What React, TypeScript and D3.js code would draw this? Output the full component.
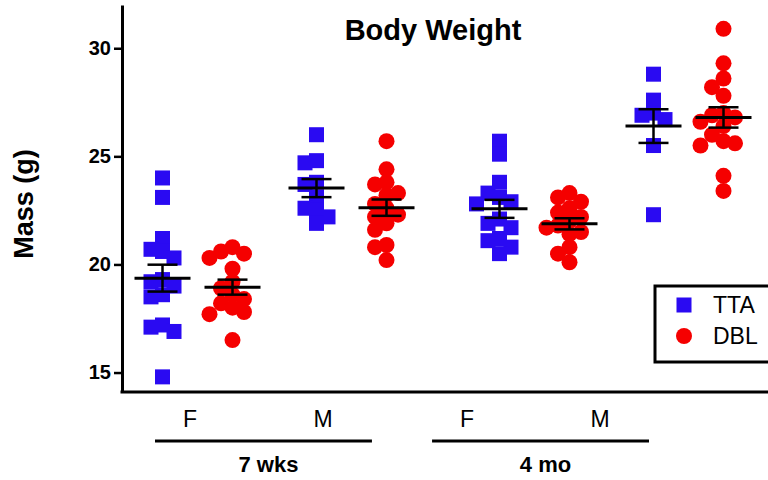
import React, { useEffect, useRef } from 'react';
import * as d3 from 'd3';

// body weight (g), one value per mouse
const ages = ['7 wks', '4 mo'];
const sexes = ['F', 'M'];
const strains = ['TTA', 'DBL'];
const yTicks = [15, 20, 25, 30];

const ttaF7 = [24.0, 23.1, 21.2, 20.7, 20.6, 20.3, 19.3, 19.2, 19.0, 18.6, 18.5, 17.2, 17.1, 16.9, 14.8];
const dblF7 = [20.8, 20.6, 20.5, 20.3, 19.8, 19.2, 18.9, 18.6, 18.4, 18.2, 18.0, 17.8, 17.7, 16.5];
const ttaM7 = [26.0, 24.8, 24.7, 23.8, 23.7, 23.1, 22.6, 22.5, 22.2, 21.9];
const dblM7 = [25.7, 24.4, 23.8, 23.7, 23.3, 23.2, 22.8, 22.6, 22.3, 22.2, 21.9, 21.6, 20.9, 20.8, 20.2];
const ttaF4 = [25.7, 25.1, 23.8, 23.3, 23.1, 22.9, 22.8, 22.1, 21.9, 21.7, 21.2, 21.1, 20.8, 20.5];
const dblF4 = [23.3, 23.1, 22.9, 22.6, 22.4, 22.2, 22.0, 21.8, 21.7, 21.5, 21.4, 20.8, 20.5, 20.1];
const ttaM4 = [28.8, 27.6, 27.0, 26.9, 26.7, 25.5, 22.3];
const dblM4 = [30.9, 29.3, 28.6, 28.2, 27.8, 27.0, 26.9, 26.8, 26.6, 26.4, 26.0, 25.7, 25.6, 25.5, 24.1, 23.4];

const groups = [
  { age: '7 wks', sex: 'F', strain: 'TTA', values: ttaF7 },
  { age: '7 wks', sex: 'F', strain: 'DBL', values: dblF7 },
  { age: '7 wks', sex: 'M', strain: 'TTA', values: ttaM7 },
  { age: '7 wks', sex: 'M', strain: 'DBL', values: dblM7 },
  { age: '4 mo', sex: 'F', strain: 'TTA', values: ttaF4 },
  { age: '4 mo', sex: 'F', strain: 'DBL', values: dblF4 },
  { age: '4 mo', sex: 'M', strain: 'TTA', values: ttaM4 },
  { age: '4 mo', sex: 'M', strain: 'DBL', values: dblM4 },
];

const font = '"Liberation Sans", Arial, sans-serif';
const color = { TTA: '#2a0af2', DBL: '#f50000' };

export default function App() {
  const ref = useRef<SVGSVGElement>(null);

  useEffect(() => {
    const width = 768;
    const height = 480;
    const svg = d3.select(ref.current);
    svg.selectAll('*').remove();
    svg.attr('width', width).attr('height', height);

    const y = d3.scaleLinear().domain([14.1, 32]).range([392, 5]);
    const xAge = d3.scaleBand().domain(ages).range([106, 780]);
    const xSex = d3.scaleBand().domain(sexes).range([14.5, 322.5]);
    const xStrain = d3.scaleBand().domain(strains).range([7, 147]);
    const cx = (g) => xAge(g.age) + xSex(g.sex) + xStrain(g.strain) + xStrain.bandwidth() / 2;

    // category labels sit on their own band under the axis
    const labAge = d3.scaleBand().domain(ages).range([155, 649]).paddingInner(0.217);
    const labSex = d3.scalePoint().domain(sexes).range([35, 168]);

    // simple swarm so points in a column don't stack
    const step = 11.5;
    const placed = groups.map((g) => {
      const pts = [];
      g.values.forEach((v) => {
        const py = y(v);
        let k = 0;
        while (true) {
          const off = k === 0 ? 0 : (k % 2 ? -1 : 1) * Math.ceil(k / 2) * step;
          const hit = pts.some((p) => Math.abs(p.dx - off) < step * 0.9 && Math.abs(p.y - py) < 12);
          if (!hit) {
            pts.push({ v, y: py, dx: off });
            break;
          }
          k++;
        }
      });
      return { ...g, pts };
    });

    const plot = svg.append('g');

    placed.forEach((g) => {
      const x0 = cx(g);
      if (g.strain === 'TTA') {
        plot.selectAll(null).data(g.pts).enter().append('rect')
          .attr('x', (d) => x0 + d.dx - 7.5)
          .attr('y', (d) => d.y - 7.5)
          .attr('width', 15).attr('height', 15)
          .attr('fill', color.TTA);
      } else {
        plot.selectAll(null).data(g.pts).enter().append('circle')
          .attr('cx', (d) => x0 + d.dx)
          .attr('cy', (d) => d.y)
          .attr('r', 8)
          .attr('fill', color.DBL);
      }
    });

    // mean +/- SEM
    placed.forEach((g) => {
      const x0 = cx(g);
      const m = d3.mean(g.values);
      const sem = d3.deviation(g.values) / Math.sqrt(g.values.length);
      const e = plot.append('g').attr('stroke', '#000').attr('fill', 'none');
      e.append('line').attr('x1', x0).attr('x2', x0).attr('y1', y(m + sem)).attr('y2', y(m - sem)).attr('stroke-width', 2.5);
      [m + sem, m - sem].forEach((v) => {
        e.append('line').attr('x1', x0 - 15).attr('x2', x0 + 15).attr('y1', y(v)).attr('y2', y(v)).attr('stroke-width', 2.5);
      });
      e.append('line').attr('x1', x0 - 28).attr('x2', x0 + 28).attr('y1', y(m)).attr('y2', y(m)).attr('stroke-width', 3);
    });

    // y axis
    const yAxis = svg.append('g')
      .attr('transform', 'translate(122,0)')
      .call(d3.axisLeft(y).tickValues(yTicks).tickSize(8).tickPadding(3).tickSizeOuter(0));
    yAxis.select('.domain').attr('stroke-width', 3);
    yAxis.selectAll('.tick line').attr('stroke-width', 2.5);
    yAxis.selectAll('.tick text')
      .attr('font-family', font).attr('font-size', 20).attr('font-weight', 'bold').attr('fill', '#000');

    // x axis line
    svg.append('line')
      .attr('x1', 120.5).attr('x2', 768).attr('y1', 392).attr('y2', 392)
      .attr('stroke', '#000').attr('stroke-width', 3);

    ages.forEach((a) => {
      const x0 = labAge(a);
      sexes.forEach((s) => {
        svg.append('text')
          .attr('x', x0 + labSex(s)).attr('y', 427)
          .attr('text-anchor', 'middle')
          .attr('font-family', font).attr('font-size', 23)
          .text(s);
      });
      svg.append('line')
        .attr('x1', x0).attr('x2', x0 + labAge.bandwidth())
        .attr('y1', 441).attr('y2', 441)
        .attr('stroke', '#000').attr('stroke-width', 3);
      svg.append('text')
        .attr('x', x0 + labAge.bandwidth() / 2 + 5).attr('y', 472)
        .attr('text-anchor', 'middle')
        .attr('font-family', font).attr('font-size', 22).attr('font-weight', 'bold')
        .text(a);
    });

    svg.append('text')
      .attr('transform', 'translate(33,204) rotate(-90)')
      .attr('text-anchor', 'middle')
      .attr('font-family', font).attr('font-size', 27).attr('font-weight', 'bold')
      .text('Mass (g)');

    svg.append('text')
      .attr('x', 433).attr('y', 40)
      .attr('text-anchor', 'middle')
      .attr('font-family', font).attr('font-size', 29).attr('font-weight', 'bold')
      .text('Body Weight');

    // legend
    const lg = svg.append('g');
    lg.append('rect')
      .attr('x', 655).attr('y', 286).attr('width', 130).attr('height', 76)
      .attr('fill', '#fff').attr('stroke', '#000').attr('stroke-width', 3);
    strains.forEach((s, i) => {
      const ly = 305 + i * 31;
      if (s === 'TTA') {
        lg.append('rect').attr('x', 676.5).attr('y', ly - 7.5).attr('width', 15).attr('height', 15).attr('fill', color.TTA);
      } else {
        lg.append('circle').attr('cx', 684).attr('cy', ly).attr('r', 8).attr('fill', color.DBL);
      }
      lg.append('text')
        .attr('x', 713).attr('y', ly + 8)
        .attr('font-family', font).attr('font-size', 23)
        .text(s);
    });
  });

  return (
    <div style={{ position: 'absolute', left: 0, top: 0 }}>
      <svg ref={ref}></svg>
    </div>
  );
}
